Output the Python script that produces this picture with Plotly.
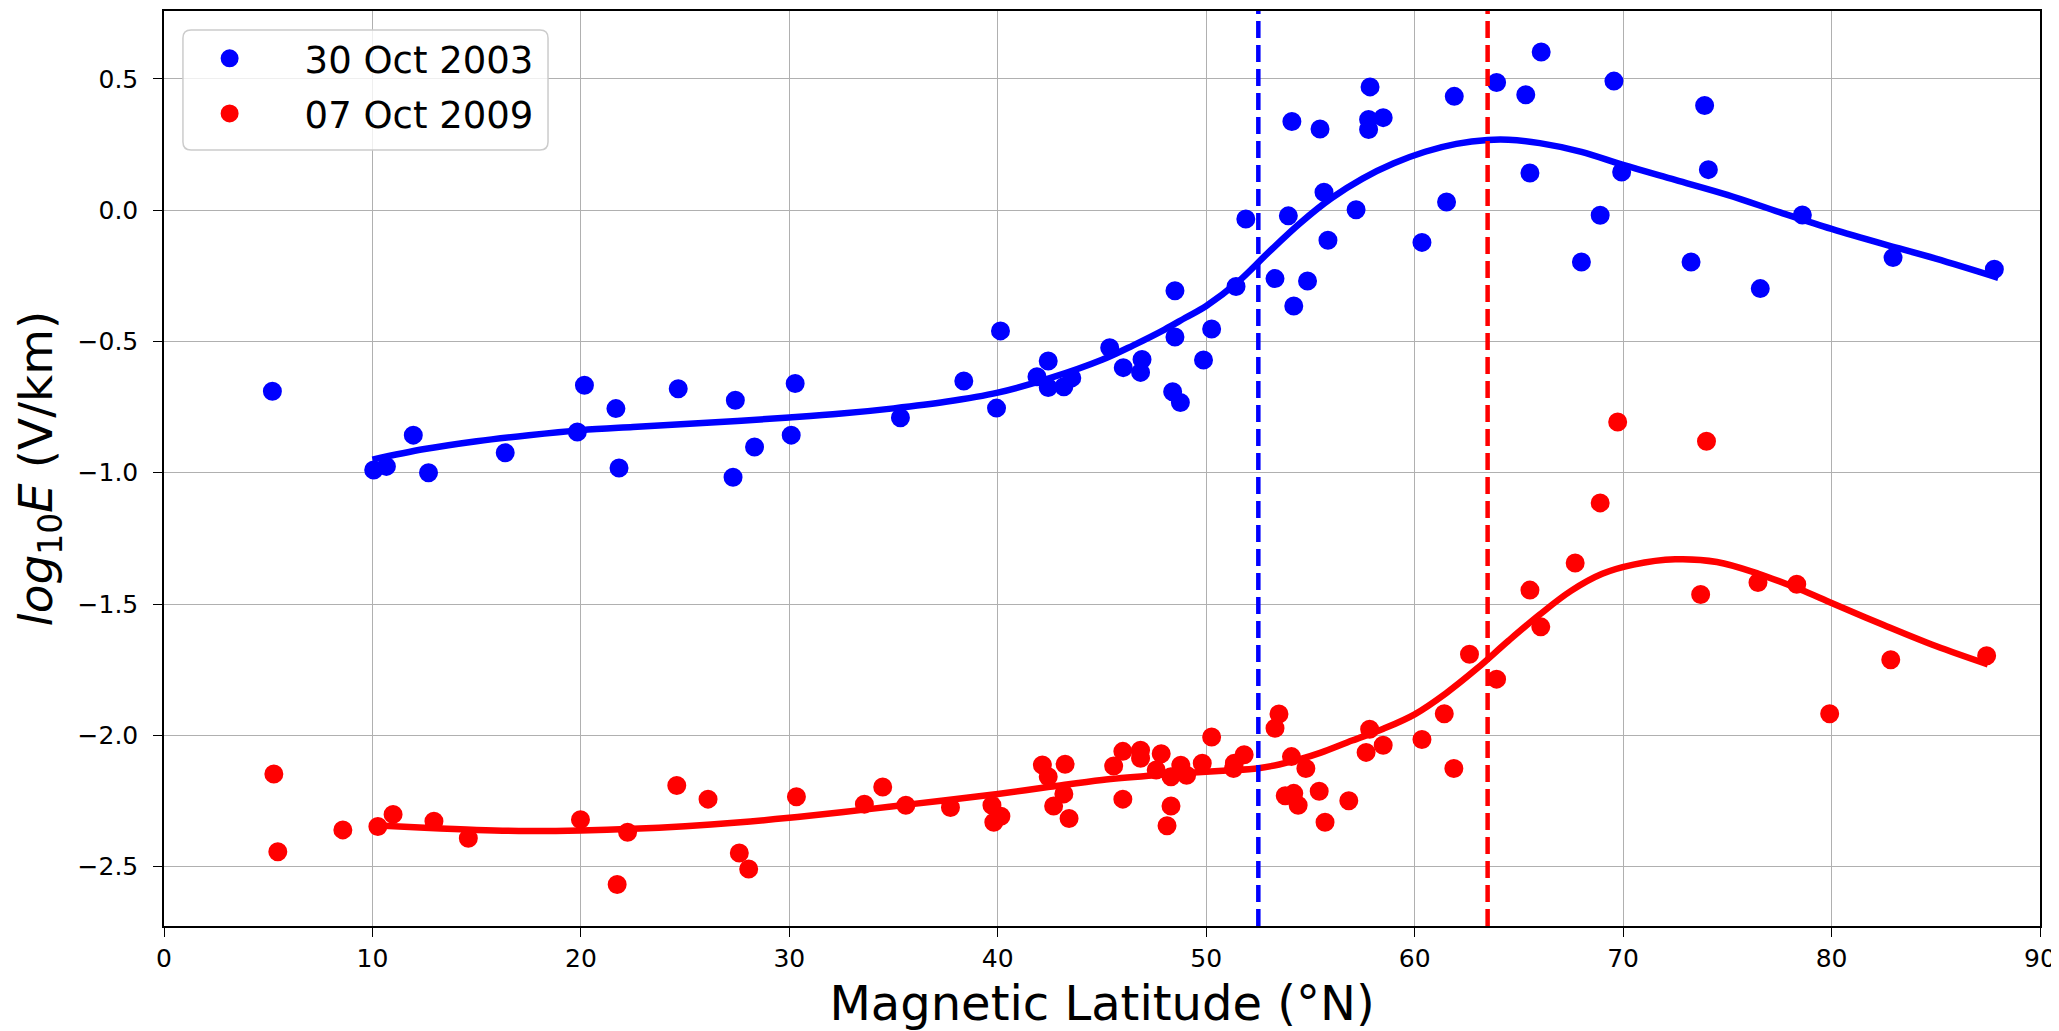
import plotly.graph_objects as go

# ---- data ----
blue_lat = [5.2, 10.06, 10.67, 11.96, 12.69, 16.37, 19.83, 20.17, 21.68, 21.83, 24.67, 27.41, 27.3, 28.33,
            30.09, 30.28, 35.33, 38.37, 39.94, 40.13, 41.88, 42.42, 42.42, 43.17, 43.55, 45.37, 46.02, 46.85,
            46.92, 48.39, 48.5, 48.5, 48.76, 49.87, 50.26, 51.43, 51.9, 53.3, 53.94, 54.11, 54.2, 54.86,
            55.46, 55.65, 55.84, 57.19, 57.79, 57.79, 57.86, 58.49, 60.35, 61.53, 61.9, 63.93, 65.33, 65.53,
            66.07, 68.0, 68.9, 69.56, 69.93, 73.26, 73.91, 74.09, 76.58, 78.6, 82.95, 87.81]
blue_logE = [-0.69, -0.99, -0.976, -0.857, -1.0, -0.924, -0.845, -0.667, -0.756, -0.982, -0.68, -0.724, -1.017, -0.902,
             -0.857, -0.66, -0.791, -0.651, -0.754, -0.46, -0.635, -0.575, -0.676, -0.673, -0.639, -0.524, -0.60, -0.618,
             -0.569, -0.692, -0.307, -0.483, -0.733, -0.571, -0.453, -0.291, -0.034, -0.261, -0.022, 0.337, -0.365, -0.27,
             0.309, 0.068, -0.115, 0.001, 0.307, 0.345, 0.469, 0.352, -0.123, 0.031, 0.433, 0.486, 0.439, 0.141,
             0.602, -0.198, -0.02, 0.491, 0.145, -0.198, 0.398, 0.154, -0.299, -0.019, -0.181, -0.225]

red_lat = [5.27, 5.46, 8.58, 10.26, 10.99, 12.95, 14.6, 19.98, 21.74, 22.24, 24.6, 26.1, 27.6, 28.05,
           30.34, 33.6, 34.48, 35.59, 37.73, 39.72, 39.81, 40.15, 42.14, 42.42, 42.68, 43.17, 43.23, 43.42,
           45.56, 46.0, 46.0, 46.85, 46.85, 47.6, 47.84, 48.12, 48.31, 48.31, 48.78, 49.06, 49.81, 50.26,
           51.31, 51.35, 51.82, 53.3, 53.49, 53.79, 54.09, 54.2, 54.41, 54.78, 55.42, 55.7, 56.84, 57.67,
           57.84, 58.49, 60.35, 61.42, 61.88, 62.63, 63.93, 65.53, 66.05, 67.7, 68.9, 69.74, 73.72, 74.0,
           76.47, 78.33, 79.91, 82.84, 87.44]
red_logE = [-2.147, -2.443, -2.36, -2.347, -2.301, -2.327, -2.392, -2.321, -2.568, -2.369, -2.191, -2.243, -2.448, -2.509,
            -2.234, -2.262, -2.197, -2.266, -2.275, -2.266, -2.331, -2.308, -2.113, -2.158, -2.269, -2.223, -2.11, -2.317,
            -2.117, -2.061, -2.243, -2.057, -2.087, -2.132, -2.07, -2.344, -2.269, -2.158, -2.114, -2.152, -2.106, -2.006,
            -2.126, -2.106, -2.074, -1.973, -1.919, -2.23, -2.081, -2.221, -2.266, -2.126, -2.213, -2.331, -2.249, -2.065,
            -1.977, -2.038, -2.016, -1.918, -2.126, -1.691, -1.786, -1.447, -1.587, -1.344, -1.115, -0.807, -1.464, -0.88,
            -1.418, -1.425, -1.918, -1.712, -1.697]

# fitted curves
blue_fit_lat = [10, 12.5, 15, 17.5, 20, 22.5, 25, 27.5, 30, 32.5, 35, 37.5, 40, 42.5, 45, 46.5, 48, 49, 50,
                51.5, 53, 54.5, 56, 57.5, 59, 60.5, 62, 63.5, 64.5, 66, 68, 70, 72.5, 75, 77.5, 80, 82.5, 85, 88]
blue_fit_logE = [-0.95, -0.91, -0.88, -0.857, -0.838, -0.826, -0.815, -0.803, -0.79, -0.775, -0.755, -0.73, -0.695,
                 -0.64, -0.57, -0.515, -0.455, -0.41, -0.365, -0.275, -0.16, -0.05, 0.045, 0.12, 0.178, 0.222,
                 0.252, 0.267, 0.268, 0.255, 0.222, 0.172, 0.115, 0.058, -0.008, -0.072, -0.13, -0.185, -0.258]
red_fit_lat = [10.3, 12.5, 15, 17.5, 20, 22.5, 25, 27.5, 30, 32.5, 35, 37.5, 40, 42.5, 45, 47.5, 49, 51, 52.5,
               53.5, 54.5, 55.5, 57, 58.5, 60, 61.5, 63, 64.5, 66, 67.5, 69, 70.5, 72.5, 74.5, 76.5, 78.5, 80,
               82.5, 85, 87.5]
red_fit_logE = [-2.343, -2.352, -2.36, -2.364, -2.362, -2.356, -2.346, -2.332, -2.314, -2.293, -2.27, -2.247, -2.223,
                -2.196, -2.17, -2.152, -2.143, -2.134, -2.125, -2.111, -2.091, -2.066, -2.02, -1.975, -1.92, -1.84,
                -1.745, -1.64, -1.54, -1.45, -1.385, -1.35, -1.33, -1.34, -1.385, -1.445, -1.496, -1.58, -1.66, -1.73]

boundary_lat = [52.5, 63.5]
boundary_colors = ["#0000ff", "#ff0000"]
series_names = ["30 Oct 2003", "07 Oct 2009"]

x_ticks = [0, 10, 20, 30, 40, 50, 60, 70, 80, 90]
y_ticks = [-2.5, -2.0, -1.5, -1.0, -0.5, 0.0, 0.5]

BLUE = "#0000ff"
RED = "#ff0000"
FONT = "DejaVu Sans"

fig = go.Figure()
fig.add_trace(go.Scatter(x=blue_lat, y=blue_logE, mode="markers", name=series_names[0],
                         marker=dict(color=BLUE, size=17, line=dict(width=2, color=BLUE)), legendgroup="a"))
fig.add_trace(go.Scatter(x=blue_fit_lat, y=blue_fit_logE, mode="lines",
                         line=dict(color=BLUE, width=6.5, shape="spline", smoothing=1.0), showlegend=False))
fig.add_trace(go.Scatter(x=red_lat, y=red_logE, mode="markers", name=series_names[1],
                         marker=dict(color=RED, size=17, line=dict(width=2, color=RED)), legendgroup="b"))
fig.add_trace(go.Scatter(x=red_fit_lat, y=red_fit_logE, mode="lines",
                         line=dict(color=RED, width=6.5, shape="spline", smoothing=1.0), showlegend=False))

for xv, c in zip(boundary_lat, boundary_colors):
    fig.add_shape(type="line", xref="x", yref="paper", x0=xv, x1=xv, y0=0, y1=1,
                  line=dict(color=c, width=4.5, dash="17px,7px"), layer="above")

# legend frame (rounded box) in paper coordinates
bx0, bx1, by0, by1 = 0.0101, 0.2047, 0.8481, 0.9792
rx, ry = 0.0043, 0.0087
path = (f"M {bx0+rx},{by1} L {bx1-rx},{by1} Q {bx1},{by1} {bx1},{by1-ry} "
        f"L {bx1},{by0+ry} Q {bx1},{by0} {bx1-rx},{by0} L {bx0+rx},{by0} "
        f"Q {bx0},{by0} {bx0},{by0+ry} L {bx0},{by1-ry} Q {bx0},{by1} {bx0+rx},{by1} Z")
fig.add_shape(type="path", xref="paper", yref="paper", path=path,
              fillcolor="rgba(255,255,255,0.8)", line=dict(color="#cccccc", width=1.5), layer="above")

axis_common = dict(
    showline=True, linecolor="black", linewidth=1.5, mirror=True,
    showgrid=True, gridcolor="#b0b0b0", gridwidth=1.3,
    ticks="outside", ticklen=9, tickwidth=1.3, tickcolor="black",
    tickfont=dict(family=FONT, size=25, color="black"),
    zeroline=False, automargin=False,
)

fig.update_xaxes(range=[0, 90], tickvals=x_ticks, ticklabelstandoff=0,
                 title=dict(text="Magnetic Latitude (°N)", font=dict(family=FONT, size=48, color="black"), standoff=20),
                 **axis_common)
fig.update_yaxes(range=[-2.726, 0.758], tickvals=y_ticks, tickformat=".1f", ticklabelstandoff=10,
                 title=dict(text="<i>log</i><sub>10</sub><i>E</i> (V/km)", font=dict(family=FONT, size=47, color="black"), standoff=14),
                 **axis_common)

# the page body has an 8px margin: shrink the figure so the plot lands where the reference has it
fig.update_layout(
    width=2051, height=1023,
    margin=dict(l=156, r=19, t=3, b=105),
    paper_bgcolor="white", plot_bgcolor="white",
    font=dict(family=FONT, color="black"),
    legend=dict(x=-0.005, y=0.9817, xanchor="left", yanchor="top",
                bgcolor="rgba(0,0,0,0)", borderwidth=0,
                font=dict(family=FONT, size=37, color="black"),
                itemwidth=140, tracegroupgap=4, traceorder="grouped"),
)

fig.write_html("out.html")
